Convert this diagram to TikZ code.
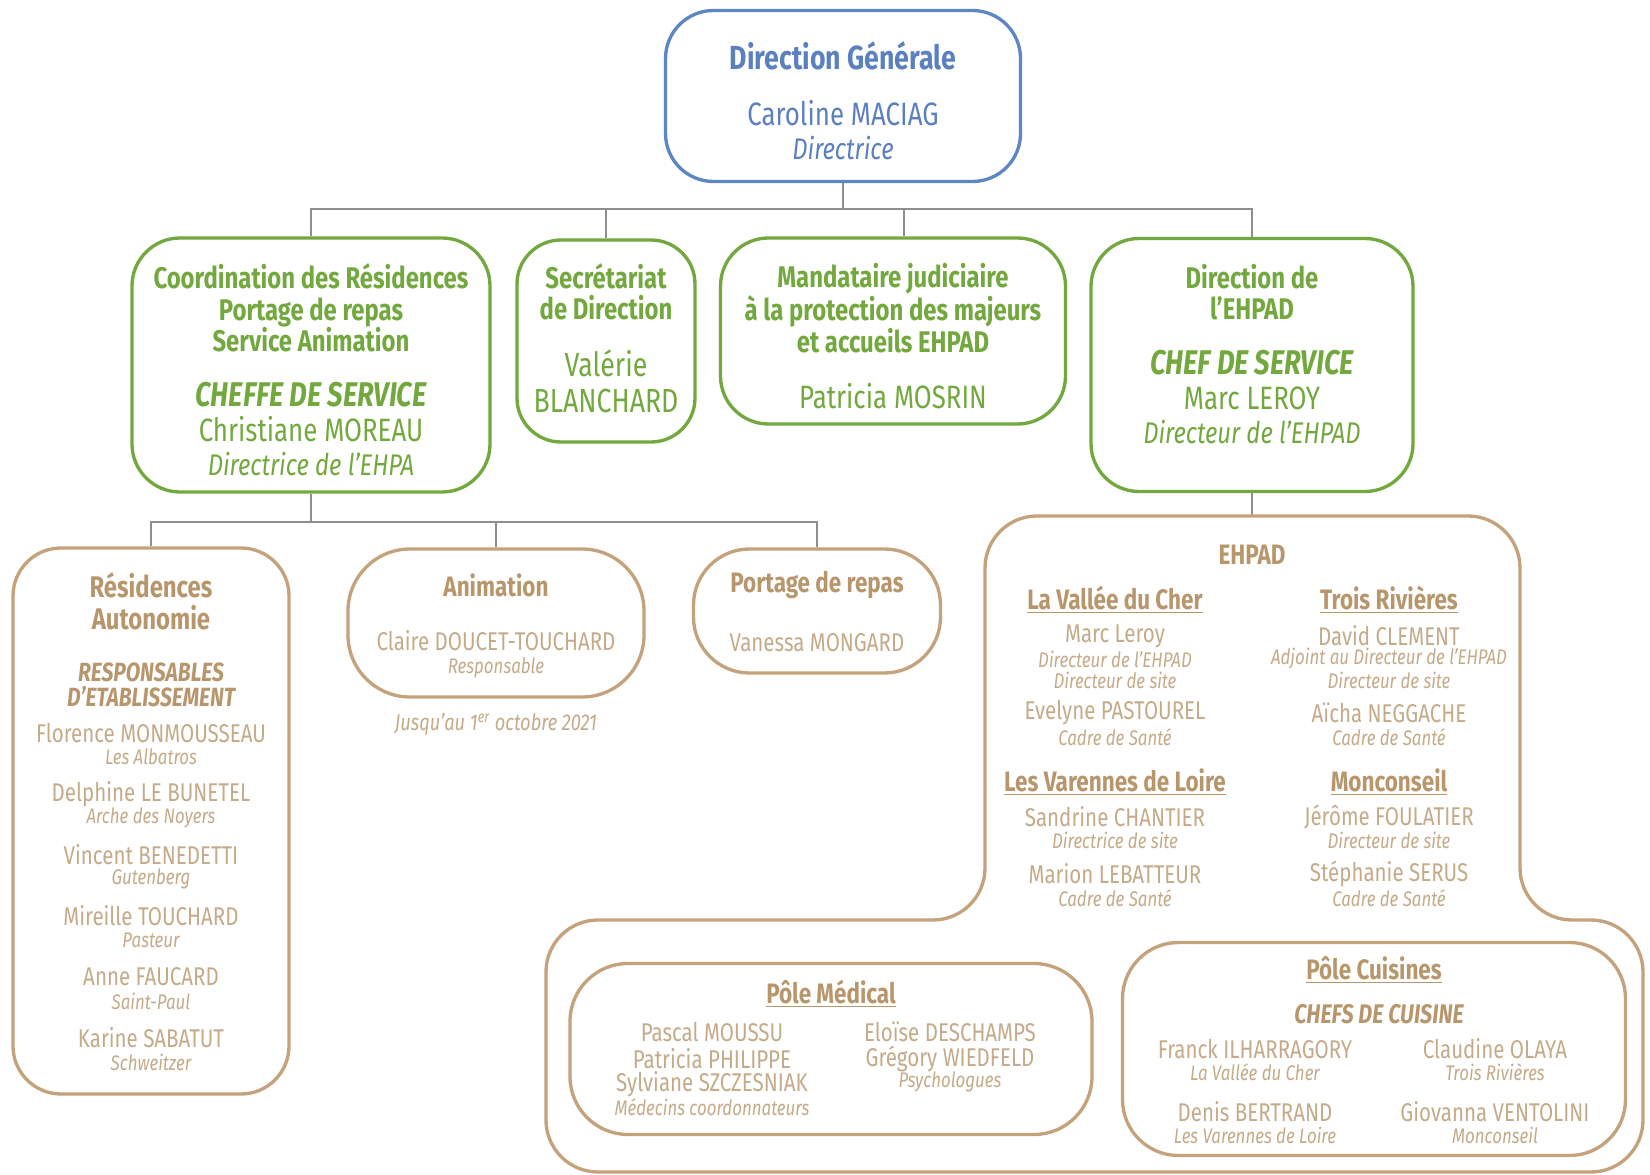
\documentclass[tikz,border=0pt]{standalone}
\usepackage{fontspec}
\setmainfont{Fira Sans}[FakeStretch=0.8]
\usetikzlibrary{positioning}
\definecolor{dgblue}{HTML}{5E86C5}
\definecolor{dgtext}{HTML}{5A80C0}
\definecolor{vert}{HTML}{72A83D}
\definecolor{brun}{HTML}{C4A27C}
\definecolor{bruntxt}{HTML}{B8966C}
\definecolor{brunpale}{HTML}{C4AA88}
\definecolor{trait}{HTML}{8E8E8E}
\newcommand{\pix}{0.02cm}

\begin{document}
\begin{tikzpicture}[x=0.02cm,y=-0.02cm,
    boite/.style={draw,line width=1.9pt,rounded corners=48*\pix},
    dim/.style args={#1/#2}{minimum width=#1*\pix,minimum height=#2*\pix},
    boxdg/.style={boite,draw=dgblue},
    boxgreen/.style={boite,draw=vert},
    boxbrown/.style={boite,draw=brun},
    link/.style={draw=trait,line width=1.1pt},
    ttl/.style={align=center,font=\bfseries\fontsize{16}{17.9}\selectfont},
    gttl/.style={align=center,font=\bfseries\fontsize{17}{17.9}\selectfont},
    chef/.style={align=center,font=\bfseries\itshape\fontsize{19.5}{20}\selectfont},
    nm/.style={align=center,font=\fontsize{18.4}{20}\selectfont},
    rl/.style={align=center,font=\itshape\fontsize{17}{18}\selectfont},
    snm/.style={font=\fontsize{14.6}{16}\selectfont,text=brunpale},
    srl/.style={font=\itshape\fontsize{12}{13}\selectfont,text=brunpale}]
            \tikzstyle{every node}+=[inner sep=0pt]
            \useasboundingbox (0,0) rectangle (1650,1175);

            \node[boxdg,dim=355/171] (dg) at (843,96) {};
            \node[ttl,text=dgtext,font=\bfseries\fontsize{19}{20}\selectfont] (dgt) at (843,56) {Direction Générale};
            \node[nm,text=dgtext] (dgn) at (843,113) {Caroline MACIAG};
            \node[rl,text=dgtext] (dgr) at (843,148) {Directrice};

            \node[boxgreen,dim=358/254] (coord) at (311,365) {};
            \node[gttl,text=vert] (coordt) at (311,308) {Coordination des Résidences\\Portage de repas\\Service Animation};
            \node[chef,text=vert] (coordc) at (311,395) {CHEFFE DE SERVICE};
            \node[nm,text=vert] (coordn) at (311,429) {Christiane MOREAU};
            \node[rl,text=vert] (coordr) at (311,464) {Directrice de l’EHPA};

            \node[boxgreen,dim=178/202,rounded corners=44*\pix] (secr) at (606,341) {};
            \node[gttl,text=vert] (secrt) at (606,292) {Secrétariat\\de Direction};
            \node[nm,text=vert,font=\fontsize{19}{20.5}\selectfont] (secrn) at (606,381) {Valérie\\BLANCHARD};

            \node[boxgreen,dim=345/186] (mand) at (893,331) {};
            \node[gttl,text=vert] (mandt) at (893,308) {Mandataire judiciaire\\à la protection des majeurs\\et accueils EHPAD};
            \node[nm,text=vert] (mandn) at (893,396) {Patricia MOSRIN};

            \node[boxgreen,dim=322/253] (direhpad) at (1252,365) {};
            \node[gttl,text=vert] (dirt) at (1252,292) {Direction de\\l’EHPAD};
            \node[chef,text=vert] (dirc) at (1252,363) {CHEF DE SERVICE};
            \node[nm,text=vert] (dirn) at (1252,398) {Marc LEROY};
            \node[rl,text=vert] (dirr) at (1252,432) {Directeur de l’EHPAD};

            \coordinate (bus) at (843,209);
            \draw[link] (dg.south) -- (bus);
            \draw[link] (coord.north) |- (bus) -| (direhpad.north);
            \draw[link] (secr.north) -- (secr.north |- bus);
            \draw[link] ([xshift=11*\pix]mand.north) -- ([xshift=11*\pix]mand.north |- bus);

            \node[boxbrown,dim=276/546] (resid) at (151,821) {};
            \node[ttl,text=bruntxt,font=\bfseries\fontsize{17}{18.2}\selectfont] (residt) at (151,601) {Résidences\\Autonomie};
            \node[chef,text=bruntxt,font=\bfseries\itshape\fontsize{15}{14.2}\selectfont] (residc) at (151,685) {RESPONSABLES\\D’ETABLISSEMENT};
            \foreach \nom/\site [count=\i from 0] in {Florence MONMOUSSEAU/Les Albatros,Delphine LE BUNETEL/Arche des Noyers,Vincent BENEDETTI/Gutenberg,Mireille TOUCHARD/Pasteur,Anne FAUCARD/Saint-Paul,Karine SABATUT/Schweitzer}{
                \node[snm] (resn\i) at (151,733+61*\i) {\nom};
                \node[srl] (resr\i) at (151,757+61*\i) {\site};
            }

            \node[boxbrown,dim=296/148,rounded corners=62*\pix] (anim) at (496,623) {};
            \node[ttl,text=bruntxt] (animt) at (496,585) {Animation};
            \node[snm] (animn) at (496,641) {Claire DOUCET-TOUCHARD};
            \node[srl] (animr) at (496,668) {Responsable};
            \node[srl,font=\itshape\fontsize{13}{14}\selectfont] (animd) at (496,724) {Jusqu’au 1\textsuperscript{er} octobre 2021};

            \node[boxbrown,dim=247/124,rounded corners=56*\pix] (portage) at (817,611) {};
            \node[ttl,text=bruntxt] (portt) at (817,585) {Portage de repas};
            \node[snm] (portn) at (817,643) {Vanessa MONGARD};

            \coordinate (sub) at (311,522);
            \draw[link] (coord.south) -- (sub);
            \draw[link] (resid.north) |- (sub) -| (portage.north);
            \draw[link] (anim.north) -- (anim.north |- sub);

            \coordinate (ehpad) at (1252,516);
            \draw[link] (direhpad.south) -- (ehpad);
            \draw[draw=brun,line width=1.9pt,rounded corners=52*\pix] (ehpad) -- (1520,516) -- (1520,920) -- (1643,920) -- (1643,1172) -- (546,1172) -- (546,920) -- (985,920) -- (985,516) -- cycle;
            \node[ttl,text=bruntxt] (ehpadt) at (1252,555) {EHPAD};

            \node[ttl,text=bruntxt] (valt) at (1115,600) {\underline{La Vallée du Cher}};
            \node[snm] (valn1) at (1115,636) {Marc Leroy};
            \node[srl] (valr1) at (1115,659) {Directeur de l’EHPAD};
            \node[srl] (valr1b) at (1115,680) {Directeur de site};
            \node[snm] (valn2) at (1115,713) {Evelyne PASTOUREL};
            \node[srl] (valr2) at (1115,737) {Cadre de Santé};

            \node[ttl,text=bruntxt] (trit) at (1389,600) {\underline{Trois Rivières}};
            \node[snm] (trin1) at (1389,636) {David CLEMENT};
            \node[srl] (trir1) at (1389,659) {Adjoint au Directeur de l’EHPAD};
            \node[srl] (trir1b) at (1389,680) {Directeur de site};
            \node[snm] (trin2) at (1389,713) {Aïcha NEGGACHE};
            \node[srl] (trir2) at (1389,737) {Cadre de Santé};

            \node[ttl,text=bruntxt] (vart) at (1115,782) {\underline{Les Varennes de Loire}};
            \node[snm] (varn1) at (1115,817) {Sandrine CHANTIER};
            \node[srl] (varr1) at (1115,840) {Directrice de site};
            \node[snm] (varn2) at (1115,874) {Marion LEBATTEUR};
            \node[srl] (varr2) at (1115,898) {Cadre de Santé};

            \node[ttl,text=bruntxt] (mont) at (1389,782) {\underline{Monconseil}};
            \node[snm] (monn1) at (1389,817) {Jérôme FOULATIER};
            \node[srl] (monr1) at (1389,840) {Directeur de site};
            \node[snm] (monn2) at (1389,874) {Stéphanie SERUS};
            \node[srl] (monr2) at (1389,898) {Cadre de Santé};

            \node[boxbrown,dim=522/171,rounded corners=58*\pix] (medical) at (831,1049) {};
            \node[ttl,text=bruntxt] (medt) at (831,994) {\underline{Pôle Médical}};
            \node[snm] (medn1) at (712,1032) {Pascal MOUSSU};
            \node[snm] (medn2) at (712,1059) {Patricia PHILIPPE};
            \node[snm] (medn3) at (712,1084) {Sylviane SZCZESNIAK};
            \node[srl] (medr1) at (712,1107) {Médecins coordonnateurs};
            \node[snm] (medn4) at (950,1032) {Eloïse DESCHAMPS};
            \node[snm] (medn5) at (950,1059) {Grégory WIEDFELD};
            \node[srl] (medr2) at (950,1082) {Psychologues};

            \node[boxbrown,dim=503/213,rounded corners=56*\pix] (cuisine) at (1374,1049) {};
            \node[ttl,text=bruntxt] (cuit) at (1374,970) {\underline{Pôle Cuisines}};
            \node[chef,text=bruntxt,font=\bfseries\itshape\fontsize{15.3}{16}\selectfont] (cuic) at (1379,1014) {CHEFS DE CUISINE};
            \node[snm] (cuin1) at (1255,1049) {Franck ILHARRAGORY};
            \node[srl] (cuir1) at (1255,1072) {La Vallée du Cher};
            \node[snm] (cuin2) at (1255,1112) {Denis BERTRAND};
            \node[srl] (cuir2) at (1255,1135) {Les Varennes de Loire};
            \node[snm] (cuin3) at (1495,1049) {Claudine OLAYA};
            \node[srl] (cuir3) at (1495,1072) {Trois Rivières};
            \node[snm] (cuin4) at (1495,1112) {Giovanna VENTOLINI};
            \node[srl] (cuir4) at (1495,1135) {Monconseil};

        \end{tikzpicture}
\end{document}
